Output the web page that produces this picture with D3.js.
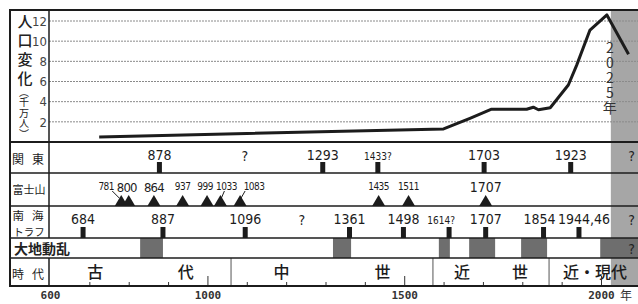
<!DOCTYPE html>
<html>
<head>
<meta charset="utf-8">
<script src="https://cdn.jsdelivr.net/npm/d3@7"></script>
<style>
  body { margin: 0; background: #fff; }
  svg { display: block; }
</style>
</head>
<body>
<div id="chart"></div>
<script>
// population, 千万人
var popYears  = [725, 1100, 1600, 1667, 1722, 1811, 1828, 1841, 1871, 1917, 1938, 1972, 2015, 2070];
var popValues = [0.5, 0.85, 1.3, 2.35, 3.25, 3.25, 3.45, 3.2, 3.4, 5.65, 7.6, 11.1, 12.6, 8.7];
var popTicks  = [2, 4, 6, 8, 10, 12];
var projStart = 2025;

// 関東
var kantoYears  = [878, 1293, 1433, 1703, 1923];
var kantoLabels = ['878', '1293', '1433?', '1703', '1923'];
var kantoUnknown = [1095, 2078];

// 富士山
var fujiYears  = [781, 800, 864, 937, 999, 1033, 1083, 1435, 1511, 1707];
var fujiLabels = ['781', '800', '864', '937', '999', '1033', '1083', '1435', '1511', '1707'];

// 南海トラフ
var nankaiYears  = [684, 887, 1096, 1361, 1498, 1614, 1707, 1854, 1944];
var nankaiLabels = ['684', '887', '1096', '1361', '1498', '1614?', '1707', '1854', '1944,46'];
var nankaiUnknown = [1240, 2078];

// 大地動乱
var turmoilStart = [829, 1319, 1588, 1665, 1797, 1998];
var turmoilEnd   = [887, 1365, 1616, 1731, 1863, 2100];
var turmoilUnknown = [2078];

// 時代
var eraNames = ['古代', '中世', '近世', '近・現代'];
var eraStart = [600, 1060, 1573, 1868];
var eraEnd   = [1060, 1573, 1868, 2100];

var axisYears = [600, 1000, 1500, 2000];

// ---- layout
var W = 638, H = 304;
var leftX = 10, divX = 49, rightX = 640, topY = 10;
var rowB = { pop: 142, kanto: 173, fuji: 206, nankai: 238, turm: 258, era: 286 };

var numFont = "'Liberation Sans Narrow', 'DejaVu Sans Condensed', sans-serif";
var jpFont = "'Noto Sans CJK JP', sans-serif";
var ink = '#1c1c1c';

// small labels and nudges
var smallLabels = ['781', '937', '999', '1033', '1083', '1435', '1511', '1433?', '1614?'];
var nudge = { '781': -15, '800': -2, '999': -2, '1033': 6, '1083': 14, '1614?': -8, '1854': -4, '1944,46': 5 };

var x = d3.scaleLinear().domain([600, 2000]).range([50, 601]);
var y = d3.scaleLinear().domain([0, 12]).range([rowB.pop, 21]);

var svg = d3.select('#chart').append('svg').attr('width', W).attr('height', H);

// projection shading
svg.append('rect')
  .attr('x', x(projStart)).attr('y', topY)
  .attr('width', rightX - x(projStart)).attr('height', rowB.era - topY)
  .attr('fill', '#a6a6a6');

// grid lines
svg.append('g').selectAll('line').data(popTicks).join('line')
  .attr('x1', divX).attr('x2', rightX)
  .attr('y1', function(d) { return y(d); }).attr('y2', function(d) { return y(d); })
  .attr('stroke', '#8a8a8a').attr('stroke-width', 1).attr('stroke-dasharray', '2,1');

// y axis labels
var yAxis = svg.append('g').attr('transform', 'translate(47,0)')
  .call(d3.axisLeft(y).tickValues(popTicks).tickSize(0).tickPadding(0));
yAxis.select('.domain').remove();
yAxis.selectAll('text').attr('font-family', numFont).attr('font-size', 13).attr('fill', '#444');

// population line
var line = d3.line().x(function(d) { return x(d[0]); }).y(function(d) { return y(d[1]); });
svg.append('path')
  .datum(popYears.map(function(yr, i) { return [yr, popValues[i]]; }))
  .attr('d', line).attr('fill', 'none').attr('stroke', ink)
  .attr('stroke-width', 3).attr('stroke-linejoin', 'round');

// turmoil blocks
svg.append('g').selectAll('rect').data(turmoilStart).join('rect')
  .attr('x', function(d) { return x(d); })
  .attr('y', rowB.nankai)
  .attr('width', function(d, i) { return Math.min(rightX, x(turmoilEnd[i])) - x(d); })
  .attr('height', rowB.turm - rowB.nankai)
  .attr('fill', '#6e6e6e');

// event ticks
function tickRow(years, labels, bottom, baseline) {
  var g = svg.append('g');
  g.selectAll('rect').data(years).join('rect')
    .attr('x', function(d) { return x(d) - 2.5; })
    .attr('y', bottom - 11).attr('width', 5).attr('height', 11).attr('fill', ink);
  g.selectAll('text').data(labels).join('text')
    .attr('x', function(d, i) { return x(years[i]) + (nudge[d] || 0); })
    .attr('y', baseline)
    .attr('text-anchor', 'middle').attr('font-family', numFont)
    .attr('font-size', function(d) { return smallLabels.indexOf(d) >= 0 ? 10 : 14; })
    .attr('fill', ink).text(function(d) { return d; });
}
tickRow(kantoYears, kantoLabels, rowB.kanto, 160);
tickRow(nankaiYears, nankaiLabels, rowB.nankai, 224);

// fuji triangles
var fg = svg.append('g');
fg.selectAll('path.tri').data(fujiYears).join('path').attr('class', 'tri')
  .attr('d', function(d) {
    var cx = x(d);
    return 'M' + (cx - 6.5) + ',' + rowB.fuji + 'L' + cx + ',' + (rowB.fuji - 11) + 'L' + (cx + 6.5) + ',' + rowB.fuji + 'Z';
  })
  .attr('fill', ink);
fg.selectAll('text').data(fujiLabels).join('text')
  .attr('x', function(d, i) { return x(fujiYears[i]) + (nudge[d] || 0); })
  .attr('y', function(d) { return smallLabels.indexOf(d) >= 0 ? 190 : 192; })
  .attr('text-anchor', 'middle').attr('font-family', numFont)
  .attr('font-size', function(d) { return smallLabels.indexOf(d) >= 0 ? 10 : (d === '1707' ? 14 : 13); })
  .attr('letter-spacing', function(d) {
    if (d === '800' || d === '864') return -0.8;
    return smallLabels.indexOf(d) >= 0 ? -0.5 : 0;
  })
  .attr('fill', ink).text(function(d) { return d; });
// leader lines: label -> triangle
var leaderFrom = { '781': -9, '1033': 4, '1083': 5 };
fg.selectAll('line').data(Object.keys(leaderFrom)).join('line')
  .attr('x1', function(d) { return x(fujiYears[fujiLabels.indexOf(d)]) + leaderFrom[d]; })
  .attr('y1', 191)
  .attr('x2', function(d) { return x(fujiYears[fujiLabels.indexOf(d)]) + (leaderFrom[d] < 0 ? -2 : 1); })
  .attr('y2', 198)
  .attr('stroke', ink).attr('stroke-width', 1);

// unknown marks
function unknowns(years, baseline, size) {
  svg.append('g').selectAll('text').data(years).join('text')
    .attr('x', function(d) { return x(d); }).attr('y', baseline)
    .attr('text-anchor', 'middle').attr('font-family', numFont)
    .attr('font-size', size).attr('fill', '#222').text('?');
}
unknowns(kantoUnknown, 161, 14);
unknowns(nankaiUnknown, 225, 14);
unknowns(turmoilUnknown, 254, 14);

// era row
var eg = svg.append('g');
eg.selectAll('line').data(eraStart.slice(1)).join('line')
  .attr('x1', function(d) { return x(d); }).attr('x2', function(d) { return x(d); })
  .attr('y1', rowB.turm).attr('y2', rowB.era)
  .attr('stroke', '#555').attr('stroke-width', 1);
eraNames.forEach(function(name, i) {
  var a = x(eraStart[i]), b = Math.min(rightX - 3, x(eraEnd[i]));
  var chars = name.length === 2 ? name.split('') : [name];
  chars.forEach(function(c, j) {
    var cx = chars.length === 2 ? a + (b - a) * (j === 0 ? 0.25 : 0.75) : (a + b) / 2 + 2;
    eg.append('text').attr('x', cx).attr('y', 278)
      .attr('text-anchor', 'middle').attr('font-family', jpFont)
      .attr('font-size', 16).attr('font-weight', 500).attr('fill', ink).text(c);
  });
});

// inner ticks on era row
var ticksAx = svg.append('g').attr('transform', 'translate(0,' + rowB.era + ')')
  .call(d3.axisTop(x).tickValues(d3.range(700, 2001, 100)).tickSize(4).tickFormat(''));
ticksAx.select('.domain').remove();
ticksAx.selectAll('.tick line').attr('stroke', '#333').attr('stroke-width', 1)
  .attr('y2', function(d) { return d % 500 === 0 ? -10 : -4; });

// bottom labels
var bAx = svg.append('g').attr('transform', 'translate(0,' + (rowB.era + 2) + ')')
  .call(d3.axisBottom(x).tickValues(axisYears).tickSize(0).tickPadding(3).tickFormat(d3.format('d')));
bAx.select('.domain').remove();
bAx.selectAll('text').attr('font-family', "'DejaVu Sans Mono', monospace")
  .attr('font-size', 11).attr('font-weight', 'bold').attr('fill', '#333');
svg.append('text').attr('x', 626).attr('y', 300).attr('text-anchor', 'middle')
  .attr('font-family', jpFont).attr('font-size', 12).attr('fill', '#333').text('年');

// frame lines
var hLines = [topY, rowB.pop, rowB.kanto, rowB.fuji, rowB.nankai, rowB.turm, rowB.era];
svg.append('g').selectAll('line').data(hLines).join('line')
  .attr('x1', leftX).attr('x2', rightX)
  .attr('y1', function(d) { return d; }).attr('y2', function(d) { return d; })
  .attr('stroke', ink).attr('stroke-width', function(d, i) { return i === 0 || i === 6 || i === 1 ? 2 : 1.5; });
svg.append('line').attr('x1', leftX).attr('x2', leftX).attr('y1', topY - 1).attr('y2', rowB.era + 1)
  .attr('stroke', ink).attr('stroke-width', 2);
[[topY, rowB.nankai], [rowB.turm, rowB.era]].forEach(function(s) {
  svg.append('line').attr('x1', divX).attr('x2', divX).attr('y1', s[0]).attr('y2', s[1])
    .attr('stroke', ink).attr('stroke-width', 1.5);
});

// left labels
function lbl(txt, cx, cy, size, weight) {
  svg.append('text').attr('x', cx).attr('y', cy).attr('text-anchor', 'middle')
    .attr('dominant-baseline', 'central')
    .attr('font-family', jpFont).attr('font-size', size).attr('font-weight', weight || 400)
    .attr('fill', '#222').text(txt);
}
// vertical text
function vtext(txt, cx, y0, size, weight, spacing, fill) {
  return svg.append('text').attr('x', cx).attr('y', y0)
    .style('writing-mode', 'vertical-rl')
    .attr('font-family', jpFont).attr('font-size', size).attr('font-weight', weight)
    .attr('letter-spacing', spacing).attr('fill', fill || '#222').text(txt);
}
vtext('人口変化', 25, 14, 15, 500, 4);
vtext('（千万人）', 24, 87, 10, 400, 0.5);
vtext('2025年', x(projStart) - 1, 41, 14, 400, 1, '#333').style('text-orientation', 'upright');

lbl('関', 18, 158, 12); lbl('東', 38, 158, 12);
lbl('富士山', 29, 189, 11);
svg.append('text').attr('x', 32).attr('y', 220).attr('text-anchor', 'middle')
  .attr('font-family', jpFont).attr('font-size', 11.5).attr('letter-spacing', 8)
  .attr('fill', '#222').text('南海');
svg.append('text').attr('x', 29).attr('y', 235.5).attr('text-anchor', 'middle')
  .attr('font-family', jpFont).attr('font-size', 10.5).attr('fill', '#222').text('トラフ');
lbl('大地動乱', 42, 248, 14, 700);
lbl('時', 18, 273, 12); lbl('代', 38, 273, 12);
</script>
</body>
</html>
